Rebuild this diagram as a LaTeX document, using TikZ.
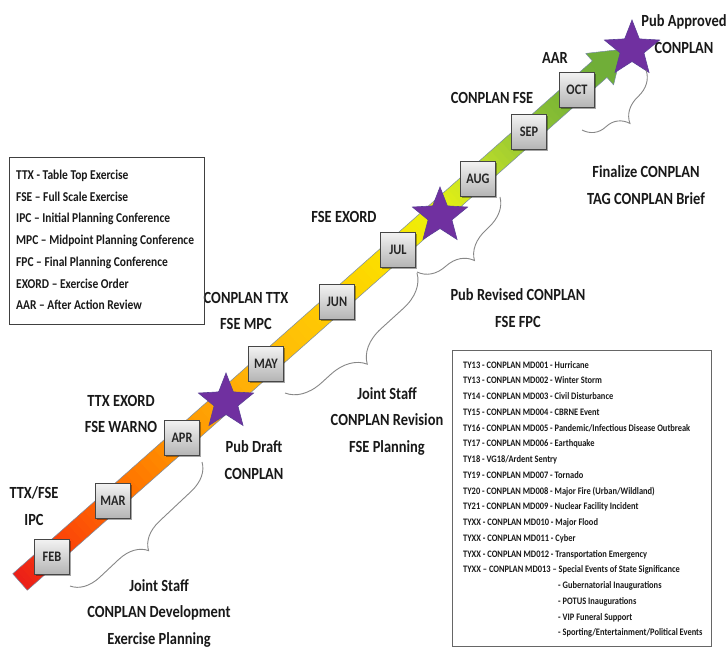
\documentclass[tikz,border=0pt]{standalone}
\usepackage{fontspec}
\setmainfont{Carlito}
\newfontfamily\calf[FakeStretch=0.85]{Carlito}
\usetikzlibrary{decorations.pathreplacing,shadows,calc}
\definecolor{starfill}{RGB}{112,48,160}
\definecolor{stardraw}{RGB}{90,62,150}
\definecolor{boxedge}{RGB}{70,70,70}
\definecolor{boxtop}{RGB}{242,242,242}
\definecolor{boxbot}{RGB}{180,180,180}
\definecolor{bandedge}{RGB}{120,140,165}
\definecolor{bracecol}{RGB}{135,135,135}
\definecolor{c0}{RGB}{235,30,25}
\definecolor{c1}{RGB}{250,65,10}
\definecolor{c2}{RGB}{255,105,0}
\definecolor{c3}{RGB}{255,150,0}
\definecolor{c4}{RGB}{255,185,10}
\definecolor{c5}{RGB}{255,205,0}
\definecolor{c6}{RGB}{250,228,0}
\definecolor{c7}{RGB}{232,242,15}
\definecolor{c8}{RGB}{195,225,40}
\definecolor{c9}{RGB}{145,196,52}
\definecolor{c10}{RGB}{118,178,52}
\definecolor{c11}{RGB}{112,174,56}
\begin{document}
\begin{tikzpicture}[x=1pt,y=-1pt,
  monthbox/.style={draw=boxedge, line width=1.1pt, top color=boxtop, bottom color=boxbot,
    minimum width=35pt, minimum height=35pt, inner sep=0pt,
    font=\calf\bfseries\fontsize{14.5}{16}\selectfont, text=black!85,
    drop shadow={shadow xshift=1.5pt, shadow yshift=-1.5pt, fill=black, opacity=0.35}},
  lbl/.style={font=\calf\bfseries\fontsize{17}{26.5}\selectfont, align=center, inner sep=0pt, text=black!90},
  legtxt/.style={font=\calf\bfseries\fontsize{13.5}{16}\selectfont, anchor=base west, inner sep=0pt, text=black!90},
  listtxt/.style={font=\calf\bfseries\fontsize{9.9}{11}\selectfont, anchor=base west, inner sep=0pt, text=black!90},
  bracestyle/.style={draw=bracecol, line width=0.9pt, decorate},
  pstar/.pic={\fill[starfill, draw=stardraw, line width=0.6pt]
    (-90:29) -- (-54:12.5) -- (-18:29) -- (18:12.5) -- (54:29) -- (90:12.5)
    -- (126:29) -- (162:12.5) -- (198:29) -- (234:12.5) -- cycle;}
]
\useasboundingbox (0,0) rectangle (728,649);
\fill[white] (0,0) rectangle (728,649);

% ---------- arrow band ----------
\begin{scope}[shift={(20,582)}, rotate=41.5]
  \foreach \sa/\sb/\ca/\cb in {0/53/c0/c1, 53/123/c1/c2, 123/216/c2/c3, 216/328/c3/c4,
      328/423/c4/c5, 423/505/c5/c6, 505/561/c6/c7, 561/611/c7/c8, 611/680/c8/c9,
      680/744/c9/c10, 744/774/c10/c11}{
    \foreach \k in {0,...,9}{
      \pgfmathsetmacro\bsA{\sa+(\sb-\sa)*\k/10}
      \pgfmathsetmacro\bsB{\sa+(\sb-\sa)*(\k+1)/10+0.6}
      \pgfmathtruncatemacro\pp{\k*10+5}
      \fill[\cb!\pp!\ca] (\bsA,-11) -- (\bsB,-11) -- (\bsB,11) -- (\bsA,11) -- cycle;
    }
  }
  \fill[c11] (774,-21) -- (804,0) -- (774,21) -- cycle;
  \draw[bandedge, line width=0.5pt, line join=round] (0,-11) -- (774,-11) -- (774,-21) -- (804,0)
    -- (774,21) -- (774,11) -- (0,11) -- cycle;
\end{scope}

% ---------- month boxes ----------
\node[monthbox] (feb) at (52,557) {FEB};
\node[monthbox] (mar) at (113,501) {MAR};
\node[monthbox] (apr) at (182,438) {APR};
\node[monthbox] (may) at (266,364) {MAY};
\node[monthbox] (jun) at (337,302) {JUN};
\node[monthbox] (jul) at (398,250) {JUL};
\node[monthbox] (aug) at (478,179) {AUG};
\node[monthbox] (sep) at (529,132) {SEP};
\node[monthbox] (oct) at (577,90) {OCT};

% ---------- stars ----------
\coordinate (star1) at (226,402);
\coordinate (star2) at (440,216);
\coordinate (star3) at (632,49);
\begin{scope}[shift={(star1)}, xscale=0.68] \pic {pstar}; \end{scope}
\begin{scope}[shift={(star2)}, xscale=0.68] \pic {pstar}; \end{scope}
\begin{scope}[shift={(star3)}, xscale=0.68] \pic {pstar}; \end{scope}

% ---------- braces ----------
\coordinate (b1a) at (70,586);  \coordinate (b1b) at (202,462);
\coordinate (b2a) at (285,393); \coordinate (b2b) at (417,273);
\coordinate (b3a) at (417,272); \coordinate (b3b) at (500,197);
\coordinate (b4a) at (582,130); \coordinate (b4b) at (646,70);
\draw[bracestyle, decoration={brace, mirror, amplitude=28pt, aspect=0.45}] (b1a) -- (b1b);
\draw[bracestyle, decoration={brace, mirror, amplitude=34pt, aspect=0.45}] (b2a) -- (b2b);
\draw[bracestyle, decoration={brace, mirror, amplitude=30pt, aspect=0.45}] (b3a) -- (b3b);
\draw[bracestyle, decoration={brace, mirror, amplitude=28pt, aspect=0.45}] (b4a) -- (b4b);

% ---------- labels ----------
\node[lbl] (lpub) at (684,34) {Pub Approved\\CONPLAN};
\node[lbl] (laar) at (555,58) {AAR};
\node[lbl] (lcfse) at (492,98) {CONPLAN FSE};
\node[lbl] (lfin) at (646,185) {Finalize CONPLAN\\TAG CONPLAN Brief};
\node[lbl] (lexord) at (344,217) {FSE EXORD};
\node[lbl] (lrev) at (518,308) {Pub Revised CONPLAN\\FSE FPC};
\node[lbl] (lttx) at (246,311) {CONPLAN TTX\\FSE MPC};
\node[lbl] (ljs2) at (387,421) {Joint Staff\\CONPLAN Revision\\FSE Planning};
\node[lbl] (lwarno) at (121,414) {TTX EXORD\\FSE WARNO};
\node[lbl] (ldraft) at (254,460) {Pub Draft\\CONPLAN};
\node[lbl] (lipc) at (34,506) {TTX/FSE\\IPC};
\node[lbl] (ljs1) at (159,613) {Joint Staff\\CONPLAN Development\\Exercise Planning};

% ---------- legend box ----------
\draw[black!75, line width=0.9pt] (9,157) rectangle (204,324);
\foreach \t [count=\i from 0] in {{TTX - Table Top Exercise}, {FSE – Full Scale Exercise},
    {IPC – Initial Planning Conference}, {MPC – Midpoint Planning Conference},
    {FPC – Final Planning Conference}, {EXORD – Exercise Order}, {AAR – After Action Review}}{
  \node[legtxt] (leg\i) at (16,179.5+21.7*\i) {\t};
}

% ---------- CONPLAN list box ----------
\draw[black!60, line width=0.9pt] (452,350) rectangle (711,646);
\foreach \t [count=\i from 0] in {{TY13 - CONPLAN MD001 - Hurricane},
    {TY13 - CONPLAN MD002 - Winter Storm},
    {TY14 - CONPLAN MD003 - Civil Disturbance},
    {TY15 - CONPLAN MD004 - CBRNE Event},
    {TY16 - CONPLAN MD005 - Pandemic/Infectious Disease Outbreak},
    {TY17 - CONPLAN MD006 - Earthquake},
    {TY18 - VG18/Ardent Sentry},
    {TY19 - CONPLAN MD007 - Tornado},
    {TY20 - CONPLAN MD008 - Major Fire (Urban/Wildland)},
    {TY21 - CONPLAN MD009 - Nuclear Facility Incident},
    {TYXX - CONPLAN MD010 - Major Flood},
    {TYXX - CONPLAN MD011 - Cyber},
    {TYXX - CONPLAN MD012 - Transportation Emergency},
    {TYXX – CONPLAN MD013 – Special Events of State Significance}}{
  \node[listtxt] (ls\i) at (463,368.2+15.75*\i) {\t};
}
\foreach \t [count=\i from 14] in {{- Gubernatorial Inaugurations}, {- POTUS Inaugurations},
    {- VIP Funeral Support}, {- Sporting/Entertainment/Political Events}}{
  \node[listtxt] (ls\i) at (558,368.2+15.75*\i) {\t};
}
\end{tikzpicture}
\end{document}
